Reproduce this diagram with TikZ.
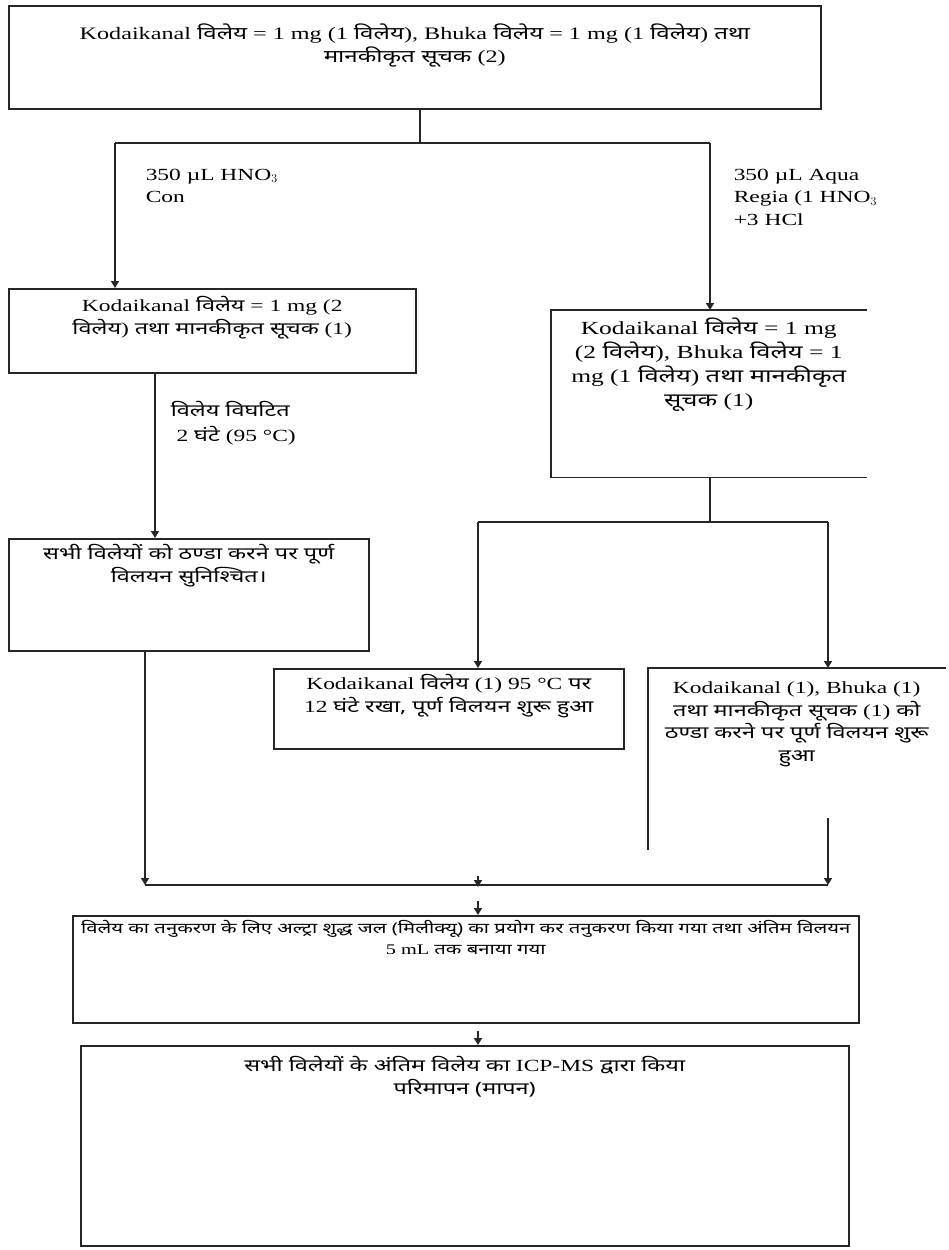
\documentclass[tikz,border=0pt]{standalone}
\usepackage{fontspec}
\setmainfont{Liberation Serif}[FakeStretch=1.38]
\newfontfamily\dvfont{Noto Sans}[Script=Devanagari,FakeStretch=1.38]
\usetikzlibrary{arrows.meta}
\newcommand{\hin}[1]{{\dvfont #1}}
\newcommand{\boxtxt}[4]{\parbox[c][#2][t]{#1}{\centering\vspace*{#3}#4\par}}
\begin{document}
\begin{tikzpicture}[x=1pt,y=-1pt,
  line width=1.5pt, draw=black!85,
  box/.style={draw, inner sep=0pt, anchor=north west},
  openbox/.style={inner sep=0pt, anchor=north west},
  lbl/.style={inner sep=0pt, anchor=north west, align=left},
  arr/.style={-{Triangle[width=8pt,length=7pt]}},
  t18/.style={font=\fontsize{17.5}{23}\selectfont},
  t19/.style={font=\fontsize{18.5}{24}\selectfont},
  t17/.style={font=\fontsize{17}{22.5}\selectfont},
  t15/.style={font=\fontsize{14.7}{21}\selectfont}]
\useasboundingbox (0,0) rectangle (949,1250);
\fill[white] (0,0) rectangle (949,1250);

% boxes
\node[box,t18] (T) at (8,5) {\boxtxt{812pt}{103pt}{18pt}{Kodaikanal \hin{विलेय} = 1 mg (1 \hin{विलेय}), Bhuka \hin{विलेय} = 1 mg (1 \hin{विलेय}) \hin{तथा}\\ \hin{मानकीकृत सूचक} (2)}};
\node[box,t17] (A) at (8,288) {\boxtxt{407pt}{84pt}{8pt}{Kodaikanal \hin{विलेय} = 1 mg (2\\ \hin{विलेय}) \hin{तथा मानकीकृत सूचक} (1)}};
\node[openbox,t19] (B) at (551,310) {\boxtxt{314pt}{166pt}{7pt}{Kodaikanal \hin{विलेय} = 1 mg\\ (2 \hin{विलेय}), Bhuka \hin{विलेय} = 1\\ mg (1 \hin{विलेय}) \hin{तथा मानकीकृत}\\ \hin{सूचक} (1)}};
\draw (B.north east) -- (B.north west) -- (B.south west) -- (B.south east);
\node[box,t17] (C) at (8,538) {\boxtxt{360pt}{112pt}{6pt}{\hin{सभी विलेयों को ठण्डा करने पर पूर्ण}\\ \hin{विलयन सुनिश्चित।}}};
\node[box,t17] (D) at (273,668) {\boxtxt{350pt}{80pt}{6pt}{Kodaikanal \hin{विलेय} (1) 95 °C \hin{पर}\\ 12 \hin{घंटे रखा, पूर्ण विलयन शुरू हुआ}}};
\node[openbox,t17] (E) at (648,668) {\boxtxt{296pt}{180pt}{13pt}{Kodaikanal (1), Bhuka (1)\\ \hin{तथा मानकीकृत सूचक} (1) \hin{को}\\ \hin{ठण्डा करने पर पूर्ण विलयन शुरू}\\ \hin{हुआ}}};
\draw (E.south west) -- (E.north west) -- (E.north east);
\node[box,t15] (F) at (72,915) {\boxtxt{786pt}{107pt}{5pt}{\hin{विलेय का तनुकरण के लिए अल्ट्रा शुद्ध जल (मिलीक्यू) का प्रयोग कर तनुकरण किया गया तथा अंतिम विलयन}\\ 5 mL \hin{तक बनाया गया}}};
\node[box,t17] (G) at (80,1045) {\boxtxt{768pt}{200pt}{11pt}{\hin{सभी विलेयों के अंतिम विलेय का} ICP-MS \hin{द्वारा किया}\\ \hin{परिमापन (मापन)}}};

% labels
\node[lbl,t17] (L1) at (145,168) {350 µL HNO$_3$\\ Con};
\node[lbl,t17] (R1) at (733,168) {350 µL Aqua\\ Regia (1 HNO$_3$\\ +3 HCl};
\node[lbl,t17,font=\fontsize{17}{24.5}\selectfont] (L2) at (170,401) {\hin{विलेय विघटित}\\ \ 2 \hin{घंटे} (95 °C)};

% coordinates
\coordinate (j1) at (420,143);
\coordinate (j1l) at (115,143);
\coordinate (j1r) at (710,143);
\coordinate (c1) at (155,0);
\coordinate (j2) at (710,522);
\coordinate (j2l) at (478,522);
\coordinate (j2r) at (828,522);
\coordinate (c3) at (145,0);
\coordinate (e1) at (828,818);
\coordinate (h1) at (145,885);
\coordinate (h2) at (828,885);
\coordinate (m0) at (478,876);
\coordinate (m1) at (478,887);
\coordinate (n0) at (478,901);
\coordinate (p0) at (478,1031);

% connectors
\draw (T.south -| j1) -- (j1);
\draw (j1l) -- (j1r);
\draw[arr] (j1l) -- (A.north -| j1l);
\draw[arr] (j1r) -- (B.north -| j1r);
\draw[arr] (A.south -| c1) -- (C.north -| c1);
\draw (B.south -| j2) -- (j2);
\draw (j2l) -- (j2r);
\draw[arr] (j2l) -- (D.north -| j2l);
\draw[arr] (j2r) -- (E.north -| j2r);
\draw[arr] (C.south -| c3) -- (h1);
\draw[arr] (e1) -- (h2);
\draw (h1) -- (h2);
\draw[arr] (m0) -- (m1);
\draw[arr] (n0) -- (F.north -| n0);
\draw[arr] (p0) -- (G.north -| p0);
\end{tikzpicture}
\end{document}
